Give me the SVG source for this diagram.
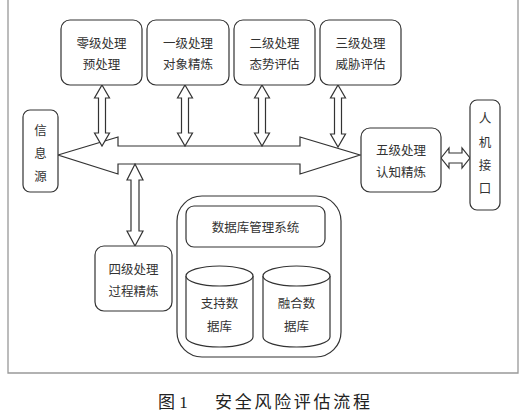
<svg xmlns="http://www.w3.org/2000/svg" width="528" height="418" viewBox="0 0 528 418">
<style>
.box{fill:#fff;stroke:#333;stroke-width:1.2}
.arr{fill:#fff;stroke:#333;stroke-width:1.2;stroke-linejoin:miter}
.t{font-family:"Noto Sans CJK SC","Liberation Sans",sans-serif;font-size:12.5px;fill:#333;text-anchor:middle;dominant-baseline:central}
.cap{font-family:"Liberation Serif","Noto Sans CJK SC",serif;font-size:17px;fill:#222;dominant-baseline:central}
</style>
<rect x="0" y="0" width="528" height="418" fill="#fff"/>
<path d="M8,-2 V373 H518 V-2" fill="none" stroke="#999" stroke-width="1.3"/>
<g id="connectors">
<polygon class="arr" points="58,155 118,137 118,146 300,146 300,137 360,155 300,174 300,164 118,164 118,174"/>
<polygon class="arr" points="102,85 109.5,98 105.5,98 105.5,133 109.5,133 102,146 94.5,133 98.5,133 98.5,98 94.5,98"/>
<polygon class="arr" points="185,85 192.5,98 188.5,98 188.5,133 192.5,133 185,146 177.5,133 181.5,133 181.5,98 177.5,98"/>
<polygon class="arr" points="262,85 269.5,98 265.5,98 265.5,133 269.5,133 262,146 254.5,133 258.5,133 258.5,98 254.5,98"/>
<polygon class="arr" points="338,85 345.5,98 341.5,98 341.5,134 345.5,134 338,147 330.5,134 334.5,134 334.5,98 330.5,98"/>
<polygon class="arr" points="135,164 143,180 139,180 139,231 143,231 135,246 127,231 131,231 131,180 127,180"/>
<polygon class="arr" points="441,158 449,148 449,153 462,153 462,148 470,158 462,168 462,163 449,163 449,168"/>
</g>
<g id="n0"><rect class="box" x="61" y="20" width="81" height="65" rx="9"/><text class="t" x="101.5" y="42">零级处理</text><text class="t" x="101.5" y="63">预处理</text></g>
<g id="n1"><rect class="box" x="147" y="20" width="82" height="65" rx="9"/><text class="t" x="188" y="42">一级处理</text><text class="t" x="188" y="63">对象精炼</text></g>
<g id="n2"><rect class="box" x="234" y="20" width="81" height="65" rx="9"/><text class="t" x="274.5" y="42">二级处理</text><text class="t" x="274.5" y="63">态势评估</text></g>
<g id="n3"><rect class="box" x="320" y="20" width="81" height="65" rx="9"/><text class="t" x="360.5" y="42">三级处理</text><text class="t" x="360.5" y="63">威胁评估</text></g>
<g id="src"><rect class="box" x="23" y="110" width="35" height="82" rx="7"/><text class="t" x="40.5" y="129">信</text><text class="t" x="40.5" y="152">息</text><text class="t" x="40.5" y="175">源</text></g>
<g id="n5"><rect class="box" x="361" y="128" width="80" height="64" rx="9"/><text class="t" x="401" y="149">五级处理</text><text class="t" x="401" y="171">认知精炼</text></g>
<g id="hci"><rect class="box" x="470" y="100" width="30" height="110" rx="7"/><text class="t" x="485" y="117">人</text><text class="t" x="485" y="141">机</text><text class="t" x="485" y="164">接</text><text class="t" x="485" y="187">口</text></g>
<g id="n4"><rect class="box" x="95" y="246" width="77" height="65" rx="9"/><text class="t" x="133.5" y="268">四级处理</text><text class="t" x="133.5" y="290">过程精炼</text></g>
<g id="db">
<rect class="box" x="177" y="196" width="164" height="161" rx="25"/>
<g id="dbms"><rect class="box" x="186" y="206" width="139" height="41" rx="8"/><text class="t" x="255.5" y="226">数据库管理系统</text></g>
<g id="cyl1"><path class="box" d="M186,276 V337 A33.5,10 0 0 0 253,337 V276"/><ellipse class="box" cx="219.5" cy="276" rx="33.5" ry="10"/><text class="t" x="219.5" y="302">支持数</text><text class="t" x="219.5" y="325">据库</text></g>
<g id="cyl2"><path class="box" d="M263,276 V337 A33.5,10 0 0 0 330,337 V276"/><ellipse class="box" cx="296.5" cy="276" rx="33.5" ry="10"/><text class="t" x="296.5" y="302">融合数</text><text class="t" x="296.5" y="325">据库</text></g>
</g>
<text class="cap" x="158" y="402">图 1</text>
<text class="cap" x="215" y="402" textLength="155" lengthAdjust="spacing">安全风险评估流程</text>
</svg>
